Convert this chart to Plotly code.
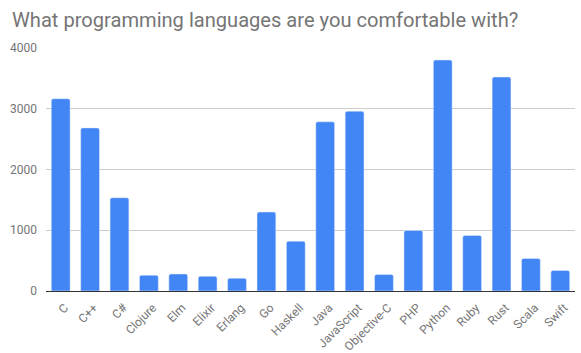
import plotly.graph_objects as go

languages = ["C", "C++", "C#", "Clojure", "Elm", "Elixir", "Erlang", "Go", "Haskell",
             "Java", "JavaScript", "Objective-C", "PHP", "Python", "Ruby", "Rust", "Scala", "Swift"]
counts = [3165, 2685, 1535, 260, 280, 242, 210, 1300, 820,
          2785, 2960, 270, 997, 3802, 915, 3522, 535, 338]
y_ticks = [0, 1000, 2000, 3000, 4000]

fig = go.Figure(go.Bar(x=languages, y=counts, marker_color="#4285f4", width=0.64))

fig.update_layout(
    width=581, height=353,
    margin=dict(l=46, r=6, t=48, b=62),
    paper_bgcolor="white", plot_bgcolor="white",
    font=dict(family="Roboto", size=12, color="#757575"),
    title=dict(text="What programming languages are you comfortable with?",
               x=0.0207, xanchor="left", y=0.943, yanchor="middle",
               font=dict(family="Roboto", size=20.1, color="#757575")),
    barcornerradius=2,
    showlegend=False,
)
fig.update_xaxes(tickangle=-45, showgrid=False, showline=True, linecolor="#333333",
                 linewidth=1, ticks="", automargin=False, ticklabelstandoff=4,
                 ticklabelshift=4, tickfont=dict(size=12, color="#757575"))
fig.update_yaxes(range=[0, 4000], tickvals=y_ticks, gridcolor="#cccccc", gridwidth=1,
                 zeroline=True, zerolinecolor="#333333", zerolinewidth=1, automargin=False,
                 ticks="", ticklabelstandoff=8, tickfont=dict(size=12, color="#757575"))

fig.write_html("out.html")
